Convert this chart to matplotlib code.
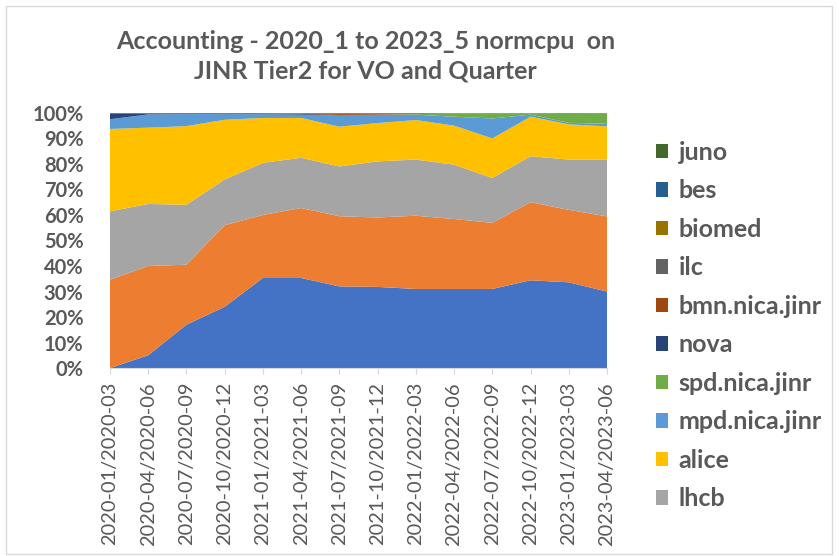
import numpy as np
import matplotlib.pyplot as plt
from matplotlib.patches import Patch
from matplotlib.ticker import PercentFormatter

plt.rcParams['font.family'] = ['Lato', 'DejaVu Sans']

quarters = ["2020-01/2020-03", "2020-04/2020-06", "2020-07/2020-09", "2020-10/2020-12",
            "2021-01/2021-03", "2021-04/2021-06", "2021-07/2021-09", "2021-10/2021-12",
            "2022-01/2022-03", "2022-04/2022-06", "2022-07/2022-09", "2022-10/2022-12",
            "2023-01/2023-03", "2023-04/2023-06"]

# share of normcpu per VO, percent
cms = [0, 5, 17, 24, 35.3, 35.3, 32, 31.8, 31, 31, 31, 34.4, 33.6, 30]
atlas = [34.6, 35, 23.5, 32, 24.7, 27.4, 27.5, 27.2, 28.7, 27.4, 25.9, 30.6, 28.4, 29.5]
lhcb = [26.8, 24.3, 23.5, 17.9, 20.4, 19.7, 19.5, 22, 22, 21.3, 17.6, 18, 19.7, 22.2]
alice = [32.3, 29.9, 30.8, 23.4, 17.6, 15.6, 15.6, 15, 15.5, 15.3, 15.5, 15.5, 13.8, 13.1]
mpd = [3.8, 5.2, 4.7, 2.2, 1.5, 1.3, 4.4, 3.3, 2.1, 3.5, 7.8, 0.8, 0.6, 1.0]
spd = [0, 0, 0, 0, 0, 0, 0, 0, 0.2, 1.3, 2, 0.5, 3.5, 4]
nova = [2.3, 0.4, 0.3, 0.3, 0.3, 0.3, 0.2, 0, 0, 0, 0, 0, 0, 0]
bmn = [0, 0, 0, 0, 0, 0.2, 0.6, 0.5, 0.3, 0, 0, 0, 0.2, 0]
ilc = [0.1, 0.1, 0.1, 0.1, 0.1, 0.1, 0.1, 0.1, 0.1, 0.1, 0.1, 0.1, 0.1, 0.1]
biomed = [0.05, 0.05, 0.05, 0.05, 0.05, 0.05, 0.05, 0.05, 0.05, 0.05, 0.05, 0.05, 0.05, 0.05]
bes = [0.05, 0.05, 0.05, 0.05, 0.05, 0.05, 0.05, 0.05, 0.05, 0.05, 0.05, 0.05, 0.05, 0.05]
juno = [0, 0, 0, 0, 0, 0, 0, 0, 0, 0, 0, 0, 0, 0.1]

names = ["cms", "atlas", "lhcb", "alice", "mpd.nica.jinr", "spd.nica.jinr", "nova",
         "bmn.nica.jinr", "ilc", "biomed", "bes", "juno"]
series = [cms, atlas, lhcb, alice, mpd, spd, nova, bmn, ilc, biomed, bes, juno]
colors = ["#4472C4", "#ED7D31", "#A5A5A5", "#FFC000", "#5B9BD5", "#70AD47",
          "#264478", "#9E480E", "#636363", "#997300", "#255E91", "#43682B"]

data = np.array(series, dtype=float)
data = data / data.sum(axis=0)  # 100% stacked
x = np.arange(len(quarters))

txt = "#595959"
fig = plt.figure(figsize=(8.39, 5.56), dpi=100)
ax = fig.add_axes([0.131, 0.338, 0.5925, 0.459])
ax.stackplot(x, data, colors=colors, linewidth=0)

ax.set_xlim(0, len(quarters) - 1)
ax.set_ylim(0, 1)
ax.set_yticks(np.arange(0, 1.01, 0.1))
ax.yaxis.set_major_formatter(PercentFormatter(1.0, decimals=0))
ax.set_xticks(x)
ax.set_xticklabels(quarters, rotation=90, fontsize=14.4, color=txt)
for lab in ax.get_yticklabels():
    lab.set_fontweight("bold")
    lab.set_fontsize(14.5)
    lab.set_color(txt)
ax.tick_params(axis="y", length=0, pad=19)
ax.tick_params(axis="x", length=4, color="#D9D9D9", pad=6)
for s in ["top", "right", "left"]:
    ax.spines[s].set_visible(False)
ax.spines["bottom"].set_color("#D9D9D9")

fig.text(0.436, 0.899, "Accounting - 2020_1 to 2023_5 normcpu  on\nJINR Tier2 for VO and Quarter",
         ha="center", va="center", fontsize=18, fontweight="bold", color=txt, linespacing=1.3)

# legend: top series first, as Excel lists it (bottom entries cut off)
order = [11, 10, 9, 8, 7, 6, 5, 4, 3, 2]
handles = [Patch(facecolor=colors[i], label=names[i]) for i in order]
leg = fig.legend(handles=handles, loc="upper left", bbox_to_anchor=(0.755, 0.787),
                 frameon=False, fontsize=18, handlelength=0.5, handleheight=0.5,
                 handletextpad=0.4, labelspacing=0.62)
for t in leg.get_texts():
    t.set_color(txt)
    t.set_fontweight("bold")

# chart frame
fig.add_artist(plt.Rectangle((0.007, 0.004), 0.985, 0.985, transform=fig.transFigure,
                             fill=False, edgecolor="#D9D9D9", linewidth=1))

fig.savefig("out.png", dpi=100)
